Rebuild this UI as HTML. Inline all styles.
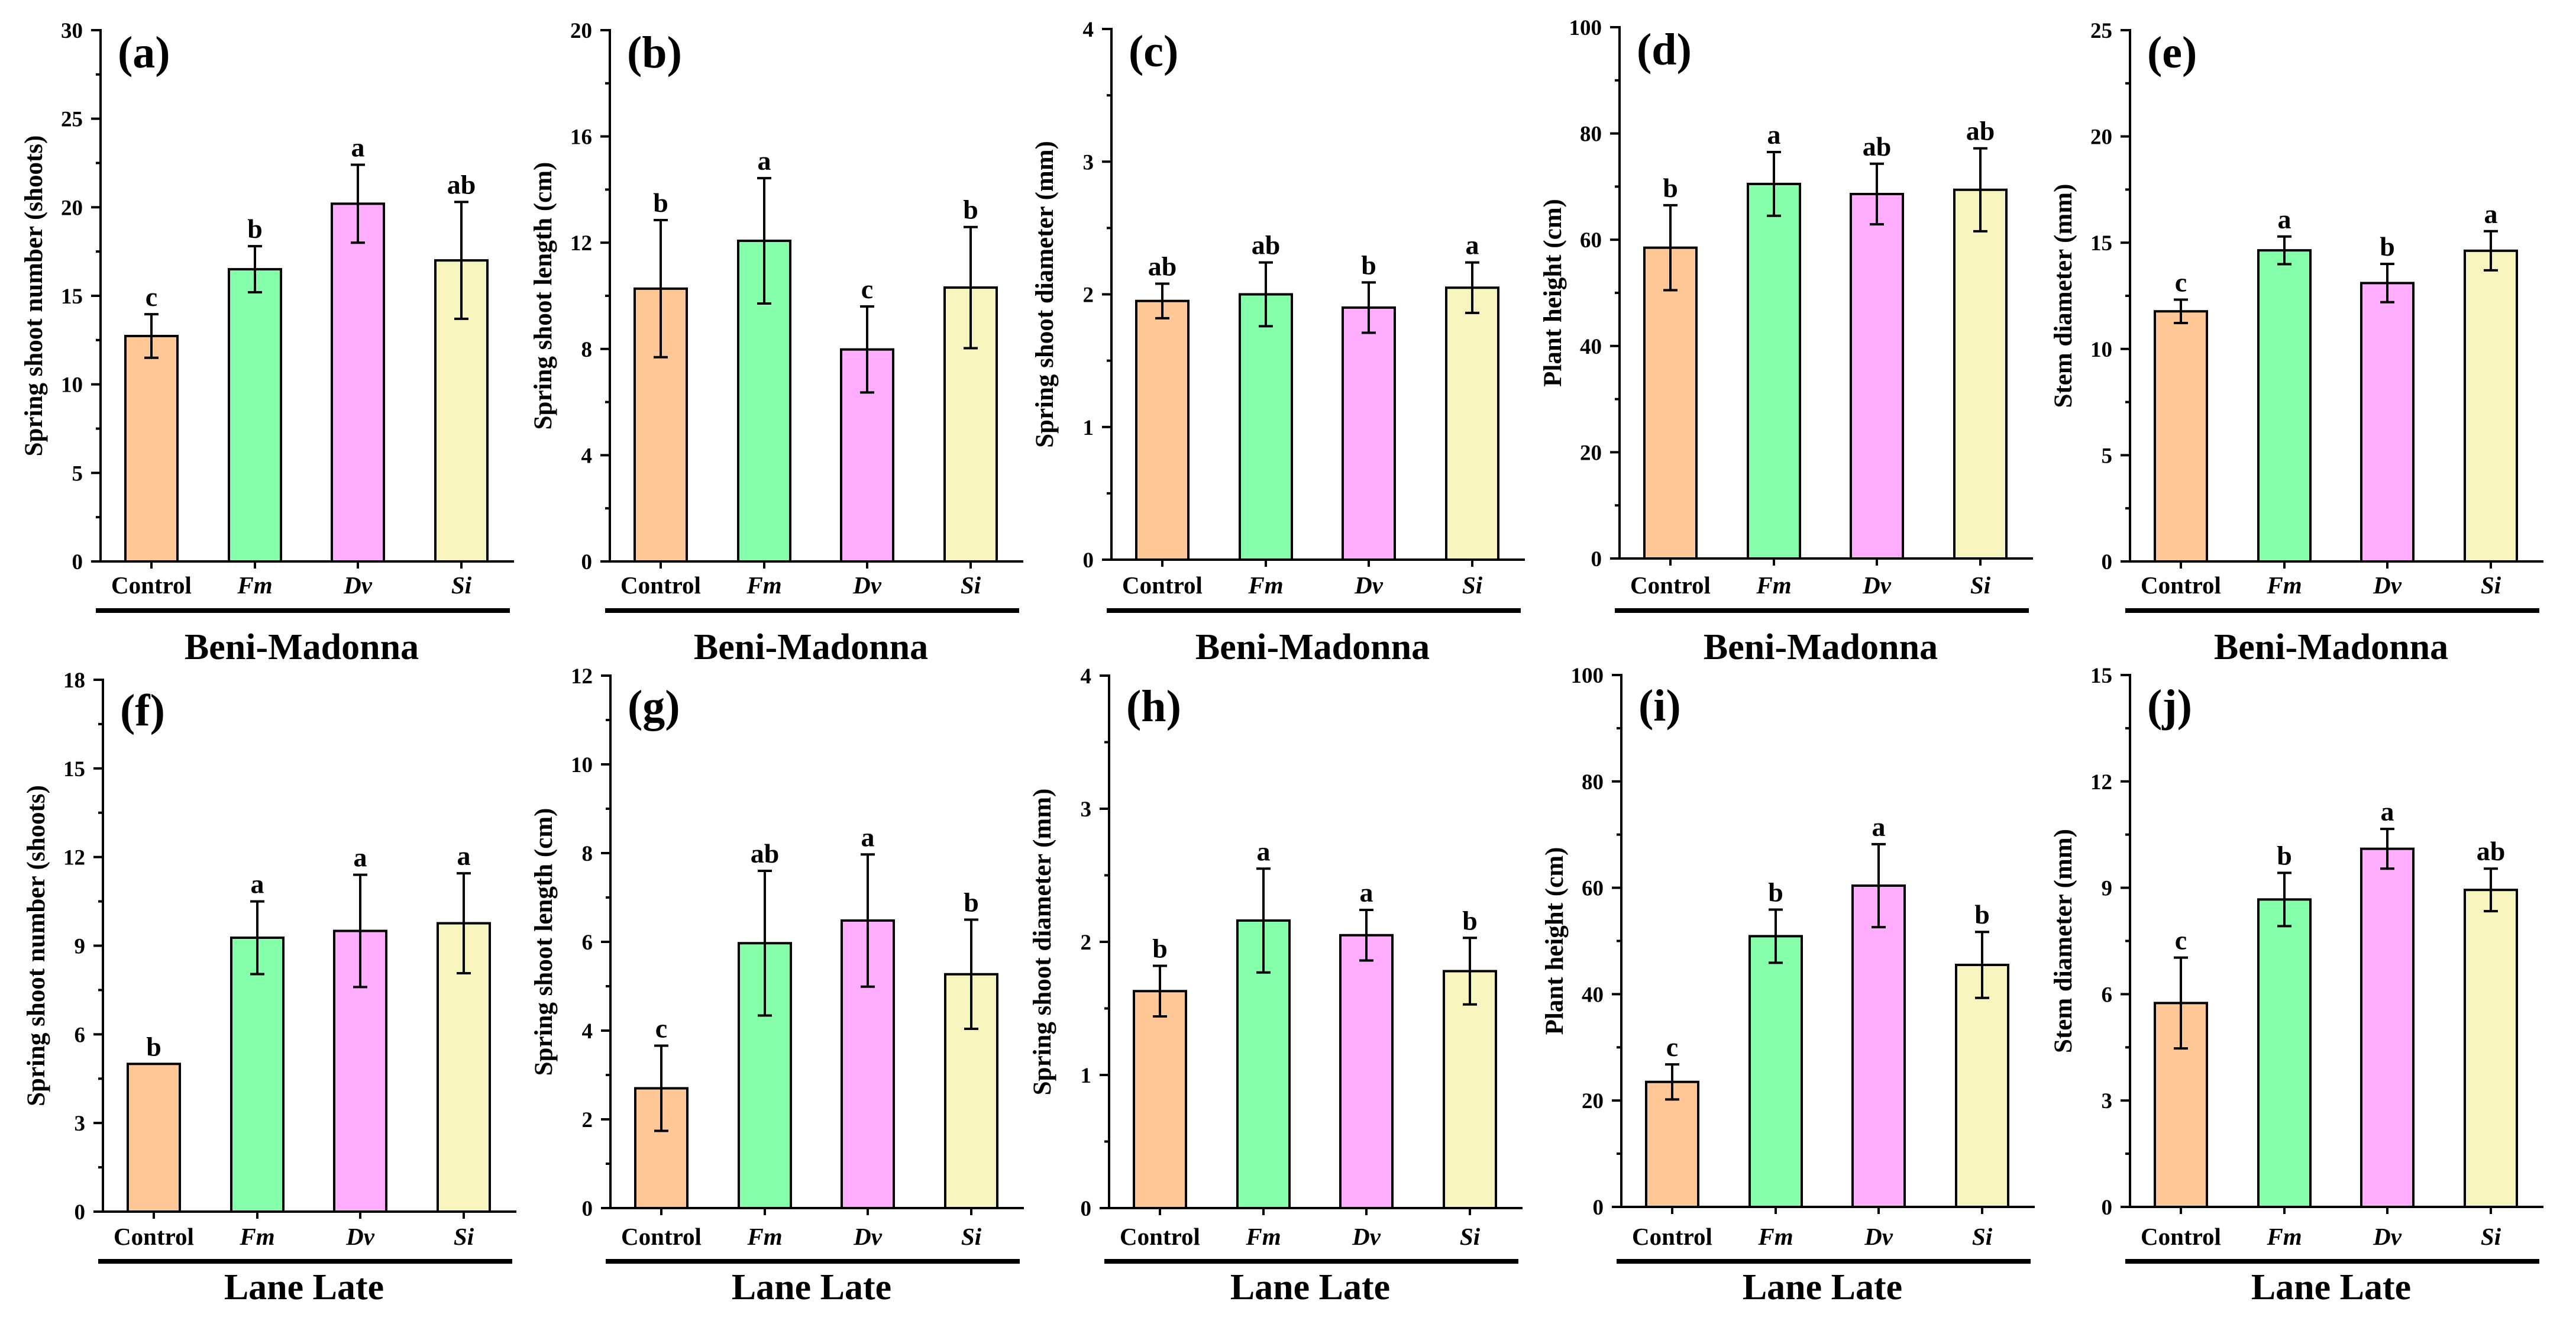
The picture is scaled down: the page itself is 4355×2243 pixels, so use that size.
<!DOCTYPE html>
<html><head><meta charset="utf-8">
<style>
html,body{margin:0;padding:0;background:#fff;}
svg{display:block;font-family:"Liberation Serif",serif;font-weight:bold;}
</style></head>
<body>
<svg id="fig" xmlns="http://www.w3.org/2000/svg" width="4355" height="2243" viewBox="0 0 4355 2243"></svg>
<script>
const categories = ["Control","Fm","Dv","Si"];
const colors = ["#FFC896","#86FFAA","#FFAEFF","#F7F4BE"];
// means and error (SD) per panel
const meanA = [12.73,16.5,20.2,17.0];   const errA = [1.23,1.3,2.2,3.3];
const meanB = [10.27,12.07,7.98,10.31]; const errB = [2.58,2.36,1.62,2.28];
const meanC = [1.95,2.0,1.90,2.05];     const errC = [0.13,0.24,0.19,0.19];
const meanD = [58.5,70.5,68.6,69.4];    const errD = [8.0,6.0,5.7,7.8];
const meanE = [11.77,14.64,13.1,14.62]; const errE = [0.55,0.65,0.9,0.92];
const meanF = [5.0,9.27,9.5,9.76];      const errF = [0,1.23,1.9,1.69];
const meanG = [2.7,5.97,6.48,5.27];     const errG = [0.96,1.63,1.49,1.23];
const meanH = [1.63,2.16,2.05,1.78];    const errH = [0.19,0.39,0.19,0.25];
const meanI = [23.5,50.9,60.4,45.5];    const errI = [3.3,5.0,7.8,6.2];
const meanJ = [5.75,8.67,10.1,8.94];    const errJ = [1.28,0.75,0.56,0.6];
const lettersA = ["c","b","a","ab"];  const lettersB = ["b","a","c","b"];
const lettersC = ["ab","ab","b","a"]; const lettersD = ["b","a","ab","ab"];
const lettersE = ["c","a","b","a"];   const lettersF = ["b","a","a","a"];
const lettersG = ["c","ab","a","b"];  const lettersH = ["b","a","a","b"];
const lettersI = ["c","b","a","b"];   const lettersJ = ["c","b","a","ab"];
const yMaxes = [30,20,4,100,25,18,12,4,100,15];
const yMajorSteps = [5,4,1,20,5,3,2,1,20,3];
const yTitles = ["Spring shoot number (shoots)","Spring shoot length (cm)","Spring shoot diameter (mm)","Plant height (cm)","Stem diameter (mm)",
                 "Spring shoot number (shoots)","Spring shoot length (cm)","Spring shoot diameter (mm)","Plant height (cm)","Stem diameter (mm)"];
const panelLetters = ["(a)","(b)","(c)","(d)","(e)","(f)","(g)","(h)","(i)","(j)"];
const groupNames = ["Beni-Madonna","Lane Late"];

const means = [meanA,meanB,meanC,meanD,meanE,meanF,meanG,meanH,meanI,meanJ];
const errs = [errA,errB,errC,errD,errE,errF,errG,errH,errI,errJ];
const letters = [lettersA,lettersB,lettersC,lettersD,lettersE,lettersF,lettersG,lettersH,lettersI,lettersJ];

// layout (geometry, not data)
const axX = [170,1031,1879,2738,3601,174,1032,1875,2741,3601];
const axTop = [51,51,49,46,51,1149,1142,1142,1141,1141];
const axBot = [949,949,946,944,949,2048,2042,2042,2040,2040];
const rowCatY = [1003,2104];
const rowLineY = [1032,2132];
const rowGroupY = [1114,2196];
const PW = 699, BW = 88;
const centersOff = [86,261,435,610];

const NS = "http://www.w3.org/2000/svg";
const svg = document.getElementById("fig");
function mk(tag, attrs, parent){
  const e = document.createElementNS(NS, tag);
  for (const k in attrs) e.setAttribute(k, attrs[k]);
  (parent||svg).appendChild(e);
  return e;
}

for (let p=0;p<10;p++){
  const row = p<5?0:1;
  const ax = axX[p], top = axTop[p], bot = axBot[p], ymax = yMaxes[p];
  const yS = v => bot - (v/ymax)*(bot-top);
  const xS = i => ax + centersOff[i];
  const g = mk("g",{});
  
  

  // bars
  for (let i=0;i<4;i++){
    const v = means[p][i];
    const r = mk("rect",{x:xS(i)-BW/2,y:yS(v),width:BW,height:bot-yS(v),fill:colors[i],stroke:"#000","stroke-width":4},g);
    
    
  }
  // error bars
  for (let i=0;i<4;i++){
    const v = means[p][i], e = errs[p][i];
    if (e<=0) continue;
    const eg = mk("g",{stroke:"#000","stroke-width":4,fill:"none"},g);
    
    
    mk("line",{x1:xS(i),x2:xS(i),y1:yS(v+e),y2:yS(v-e)},eg);
    mk("line",{x1:xS(i)-12,x2:xS(i)+12,y1:yS(v+e),y2:yS(v+e)},eg);
    mk("line",{x1:xS(i)-12,x2:xS(i)+12,y1:yS(v-e),y2:yS(v-e)},eg);
  }
  // significance letters
  for (let i=0;i<4;i++){
    const v = means[p][i]+errs[p][i];
    const t = mk("text",{x:xS(i),y:yS(v)-14,"text-anchor":"middle","font-size":46},g);
    t.textContent = letters[p][i];
    
    
  }
  // axes
  const axes = mk("g",{stroke:"#000","stroke-width":4,fill:"none"},g);
  
  
  mk("line",{x1:ax,x2:ax,y1:top-2,y2:bot+2},axes);
  mk("line",{x1:ax-2,x2:ax+PW,y1:bot,y2:bot},axes);
  const step = yMajorSteps[p];
  for (let v=0; v<=ymax+1e-9; v+=step/2){
    const major = Math.abs(Math.round(v/step)*step - v) < 1e-9;
    mk("line",{x1:ax-(major?16:8),x2:ax,y1:yS(v),y2:yS(v)},axes);
    if (major){
      const t = mk("text",{x:ax-30,y:yS(v)+13,"text-anchor":"end","font-size":37,stroke:"none",fill:"#000"},g);
      t.textContent = String(Math.round(v*100)/100);
      
      
    }
  }
  for (let i=0;i<4;i++){
    mk("line",{x1:xS(i),x2:xS(i),y1:bot,y2:bot+12},axes);
    const t = mk("text",{x:xS(i),y:rowCatY[row],"text-anchor":"middle","font-size":41,"font-style":i>0?"italic":"normal"},g);
    t.textContent = categories[i];
    
    
  }
  // y title
  const cy = (top+bot)/2;
  const yt = mk("text",{x:ax-99,y:cy,transform:`rotate(-90 ${ax-99} ${cy})`,"text-anchor":"middle","font-size":43},g);
  yt.textContent = yTitles[p];
  
  
  // panel label
  const pl = mk("text",{x:ax+29,y:top+(row?77:63),"font-size":76},g);
  pl.textContent = panelLetters[p];
  
  
  // group line & name
  const gl = mk("rect",{x:ax-8,y:rowLineY[row]-4,width:700,height:8,fill:"#000"},g);
  
  
  const gn = mk("text",{x:ax+340,y:rowGroupY[row],"text-anchor":"middle","font-size":62},g);
  gn.textContent = groupNames[row];
  
  
}
</script>
</body></html>
